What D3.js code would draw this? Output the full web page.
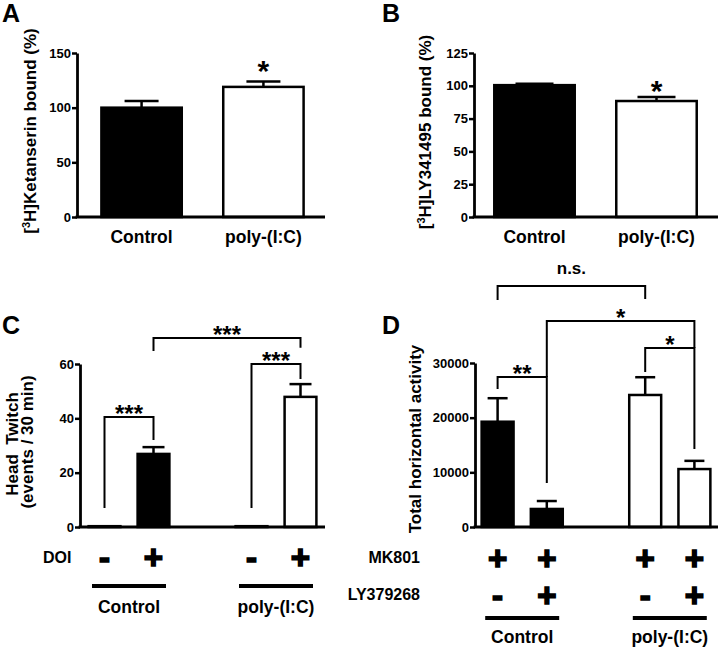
<!DOCTYPE html>
<html><head><meta charset="utf-8">
<script src="https://cdn.jsdelivr.net/npm/d3@7"></script>
<style>
body{margin:0;background:#fff}
text{font-family:"Liberation Sans",Arial,sans-serif;font-weight:bold;fill:#000;white-space:pre}
</style>
</head><body>
<svg id="chart" width="720" height="650"></svg>
<script>
// ---------- DATA ----------
const groupsAB = ["Control", "poly-(I:C)"];
const ketanserinMean = [100, 119];
const ketanserinSem = [6, 5];
const ly341495Mean = [100.5, 88.4];
const ly341495Sem = [1, 3];
const ticksA = [0, 50, 100, 150];
const ticksB = [0, 25, 50, 75, 100, 125];

const barsCD = ["ctl1", "ctl2", "gap", "pic1", "pic2"];
const barKeysCD = ["ctl1", "ctl2", "pic1", "pic2"];
const barGroupCD = ["Control", "Control", "poly-(I:C)", "poly-(I:C)"];
const headTwitchMean = [0.3, 26.9, 0.3, 47.9];
const headTwitchSem = [0, 2.5, 0, 4.7];
const ticksC = [0, 20, 40, 60];
const doiRow = ["-", "+", "-", "+"];

const activityMean = [19260, 3300, 24150, 10600];
const activitySem = [4300, 1450, 3250, 1500];
const ticksD = [0, 10000, 20000, 30000];
const mk801Row = ["+", "+", "+", "+"];
const ly379268Row = ["-", "+", "-", "+"];

// brackets: [leftKey, rightKey, topValue, leftBottomValue, rightBottomValue, label]
const bracketsC = [
  ["ctl1", "ctl2", 40.5, 7, 32, "***"],
  ["pic1", "pic2", 60, 7, 54.5, "***"],
  ["ctl2", "pic2", 69.6, 64.8, 66, "***"]
];
const bracketsD = [
  ["ctl1", "ctl2", 27440, 25240, 8050, "**"],
  ["pic1", "pic2", 32740, 28350, 14270, "*"],
  ["ctl2", "pic2", 37680, 27440, 32740, "*"],
  ["ctl1", "pic1", 44085, 41520, 41700, "n.s."]
];

const fillFor = g => g === "Control" ? "#000" : "#fff";

// ---------- DRAW ----------
const svg = d3.select("#chart");

function panel(cfg) {
  const g = svg.append("g");
  const xs = d3.scaleBand().domain(cfg.domain).range(cfg.bandRange)
    .paddingInner(cfg.pi).paddingOuter(cfg.po);
  const ys = d3.scaleLinear().domain([0, cfg.yMax]).range([cfg.baseY, cfg.topY]);
  const bw = xs.bandwidth();
  const data = cfg.keys.map((k, i) => ({k, v: cfg.values[i], e: cfg.sems[i], grp: cfg.groups[i]}));

  g.selectAll("rect.bar").data(data).join("rect").attr("class", "bar")
    .attr("x", d => xs(d.k) + 1.25).attr("width", bw - 2.5)
    .attr("y", d => ys(d.v)).attr("height", d => Math.max(0.5, ys(0) - ys(d.v)))
    .attr("fill", d => fillFor(d.grp)).attr("stroke", "#000").attr("stroke-width", 2.5);

  const eb = data.filter(d => d.e > 0);
  g.selectAll("line.err").data(eb).join("line")
    .attr("x1", d => xs(d.k) + bw / 2).attr("x2", d => xs(d.k) + bw / 2)
    .attr("y1", d => ys(d.v)).attr("y2", d => ys(d.v + d.e))
    .attr("stroke", "#000").attr("stroke-width", 2.5);
  g.selectAll("line.cap").data(eb).join("line")
    .attr("x1", d => xs(d.k) + bw / 2 - cfg.capW / 2).attr("x2", d => xs(d.k) + bw / 2 + cfg.capW / 2)
    .attr("y1", d => ys(d.v + d.e)).attr("y2", d => ys(d.v + d.e))
    .attr("stroke", "#000").attr("stroke-width", 2.5);

  const ax = g.append("g").attr("transform", `translate(${cfg.axisX},0)`)
    .call(d3.axisLeft(ys).tickValues(cfg.ticks).tickSize(5).tickSizeOuter(0).tickPadding(1)
      .tickFormat(d3.format("d")));
  ax.select(".domain").attr("stroke-width", 2.8);
  ax.selectAll(".tick line").attr("stroke-width", 2.5);
  ax.selectAll(".tick text").attr("font-size", 13).attr("font-family", null);

  g.append("line").attr("x1", cfg.axisX - 1.4).attr("x2", cfg.axisRight)
    .attr("y1", cfg.baseY).attr("y2", cfg.baseY).attr("stroke", "#000").attr("stroke-width", 2.8);

  return {g, xs, ys, bw};
}

function yLabel(x, y, fs) {
  return svg.append("text").attr("transform", `translate(${x},${y}) rotate(-90)`)
    .attr("text-anchor", "middle").attr("font-size", fs);
}

function brackets(p, list, fsStar, fsText) {
  const {g, xs, ys, bw} = p;
  list.forEach(b => {
    const xl = xs(b[0]) + bw / 2, xr = xs(b[1]) + bw / 2;
    const yt = ys(b[2]);
    g.append("path")
      .attr("d", `M${xl},${ys(b[3])}V${yt}H${xr}V${ys(b[4])}`)
      .attr("fill", "none").attr("stroke", "#000").attr("stroke-width", 2);
    const isStar = b[5].indexOf("*") >= 0;
    g.append("text").attr("x", (xl + xr) / 2)
      .attr("y", isStar ? yt - 8 + 0.55 * fsStar : yt - 12)
      .attr("text-anchor", "middle").attr("font-size", isStar ? fsStar : fsText)
      .text(b[5]);
  });
}

function signRow(p, keys, signs, cy) {
  const {g, xs, bw} = p;
  keys.forEach((k, i) => {
    g.append("text").attr("x", xs(k) + bw / 2).attr("y", cy + 11.5)
      .attr("text-anchor", "middle").attr("font-size", 33)
      .attr("stroke", "#000").attr("stroke-width", 1.6)
      .text(signs[i]);
  });
}

function groupRow(p, keys, groups, lineY, textY) {
  const {g, xs, bw} = p;
  const uniq = Array.from(new Set(groups));
  uniq.forEach(grp => {
    const ks = keys.filter((k, i) => groups[i] === grp);
    const c1 = xs(ks[0]) + bw / 2, c2 = xs(ks[ks.length - 1]) + bw / 2;
    const mid = (c1 + c2) / 2;
    g.append("line").attr("x1", mid - 37).attr("x2", mid + 37)
      .attr("y1", lineY).attr("y2", lineY).attr("stroke", "#000").attr("stroke-width", 4);
    g.append("text").attr("x", mid).attr("y", textY).attr("text-anchor", "middle")
      .attr("font-size", 17.5).text(grp);
  });
}

function letter(x, y, s) {
  svg.append("text").attr("x", x).attr("y", y).attr("font-size", 25).text(s);
}

// Panel A
const pA = panel({axisX: 77, axisRight: 325, baseY: 217, topY: 53, bandRange: [77, 328], pi: 0.32, po: 0.19,
  domain: groupsAB, keys: groupsAB, groups: groupsAB, values: ketanserinMean, sems: ketanserinSem,
  yMax: 150, ticks: ticksA, capW: 34});
pA.g.append("text").attr("x", pA.xs("poly-(I:C)") + pA.bw / 2).attr("y", 81).attr("text-anchor", "middle")
  .attr("font-size", 30).text("*");
groupsAB.forEach(k => pA.g.append("text").attr("x", pA.xs(k) + pA.bw / 2).attr("y", 243)
  .attr("text-anchor", "middle").attr("font-size", 17.5).text(k));
{
  const t = yLabel(36, 131, 17);
  t.append("tspan").text("[");
  t.append("tspan").attr("font-size", 11).attr("dy", -6).text("3");
  t.append("tspan").attr("dy", 6).text("H]Ketanserin bound (%)");
}
letter(2, 22, "A");

// Panel B
const pB = panel({axisX: 474, axisRight: 718, baseY: 217, topY: 53, bandRange: [474, 717], pi: 0.32, po: 0.156,
  domain: groupsAB, keys: groupsAB, groups: groupsAB, values: ly341495Mean, sems: ly341495Sem,
  yMax: 125, ticks: ticksB, capW: 38});
pB.g.append("text").attr("x", pB.xs("poly-(I:C)") + pB.bw / 2).attr("y", 101).attr("text-anchor", "middle")
  .attr("font-size", 30).text("*");
groupsAB.forEach(k => pB.g.append("text").attr("x", pB.xs(k) + pB.bw / 2).attr("y", 243)
  .attr("text-anchor", "middle").attr("font-size", 17.5).text(k));
{
  const t = yLabel(431, 132, 17);
  t.append("tspan").text("[");
  t.append("tspan").attr("font-size", 11).attr("dy", -6).text("3");
  t.append("tspan").attr("dy", 6).text("H]LY341495 bound (%)");
}
letter(382, 22, "B");

// Panel C
const pC = panel({axisX: 80, axisRight: 325, baseY: 527, topY: 364, bandRange: [80, 325], pi: 0.3, po: 0.15,
  domain: barsCD, keys: barKeysCD, groups: barGroupCD, values: headTwitchMean, sems: headTwitchSem,
  yMax: 60, ticks: ticksC, capW: 22});
brackets(pC, bracketsC, 24, 17);
signRow(pC, barKeysCD, doiRow, 557);
pC.g.append("text").attr("x", 43).attr("y", 563).attr("font-size", 16).text("DOI");
groupRow(pC, barKeysCD, barGroupCD, 586, 613);
yLabel(18, 444, 17).text("Head  Twitch");
yLabel(33, 442, 17).text("(events / 30 min)");
letter(2, 334, "C");

// Panel D
const pD = panel({axisX: 475, axisRight: 718, baseY: 527, topY: 363, bandRange: [473, 719], pi: 0.3, po: 0.15,
  domain: barsCD, keys: barKeysCD, groups: barGroupCD, values: activityMean, sems: activitySem,
  yMax: 30000, ticks: ticksD, capW: 20});
brackets(pD, bracketsD, 24, 17);
signRow(pD, barKeysCD, mk801Row, 558);
signRow(pD, barKeysCD, ly379268Row, 595);
pD.g.append("text").attr("x", 420).attr("y", 563).attr("text-anchor", "end").attr("font-size", 16).text("MK801");
pD.g.append("text").attr("x", 420).attr("y", 600).attr("text-anchor", "end").attr("font-size", 16).text("LY379268");
groupRow(pD, barKeysCD, barGroupCD, 618, 643);
yLabel(421, 439, 17).text("Total horizontal activity");
letter(382, 334, "D");
</script>
</body></html>
